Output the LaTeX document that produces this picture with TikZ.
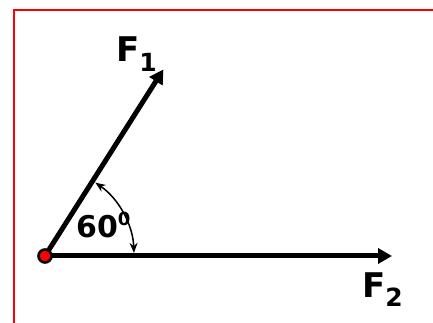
\documentclass[tikz,border=0pt]{standalone}
\usepackage{fontspec}
\setmainfont{DejaVu Sans}
\usepackage{tikz}
\usetikzlibrary{arrows.meta,calc}

\newcommand{\forcelabel}[2]{F{\fontsize{25}{27}\selectfont\raisebox{-#2}{#1}}}

\begin{document}
\begin{tikzpicture}[
  x=1pt, y=1pt,
  every node/.style={font=\fontsize{34}{36}\selectfont\bfseries, inner sep=0pt},
  force/.style={line width=5pt, -{Triangle[length=14pt,width=15pt]}},
  pivot/.style={circle, minimum size=13pt, inner sep=0pt, fill=red, draw=black, line width=2.6pt},
  angarrow/.style={line width=1.5pt, {Stealth[length=10pt,width=8pt]}-{Stealth[length=10pt,width=8pt]}},
  frame/.style={red, line width=2.5pt},
]

% ---- Canvas and red frame ----
\useasboundingbox (0,0) rectangle (433,323);
\draw[frame] (14,0) -- (14,313) -- (433,313);

% ---- Origin and tips of the two forces ----
\coordinate (O) at (45,67);
\coordinate (F1tip) at ($(O)+(57.6:221)$);
\coordinate (F2tip) at (392,67);

% ---- Forces ----
\draw[force] (O) -- (F1tip);
\draw[force] (O) -- (F2tip);

% ---- Angle between them ----
\draw[angarrow] ($(O)+(2:89)$) arc[start angle=2, end angle=55.5, radius=89];
\node[anchor=base west, font=\fontsize{30}{32}\selectfont\bfseries] (ang) at (76,85)
  {60\raisebox{12pt}{\fontsize{18}{20}\selectfont 0}};

% ---- Labels ----
\node[anchor=base west] (F1lab) at (116,261) {\forcelabel{1}{10pt}};
\node[anchor=base west] (F2lab) at (362,25) {\forcelabel{2}{9pt}};

% ---- Point of application ----
\node[pivot] (dot) at (O) {};

\end{tikzpicture}
\end{document}
